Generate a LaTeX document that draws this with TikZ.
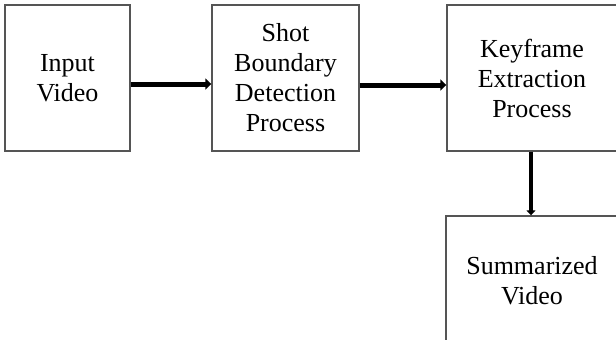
\documentclass[tikz,border=0pt]{standalone}
\usepackage{fontspec}
\setmainfont{Liberation Serif}
\usetikzlibrary{arrows.meta}
\definecolor{boxgray}{RGB}{85,85,85}
\begin{document}
\begin{tikzpicture}[x=1pt,y=-1pt,
  blk/.style={draw=boxgray,line width=1.4pt,inner sep=0pt,align=center,
    font=\fontsize{26}{30}\selectfont},
  bigarrow/.style={line width=5pt,-{Triangle[length=6pt,width=11pt]}},
  downarrow/.style={line width=3.5pt,-{Triangle[length=5pt,width=9pt]}}]
\useasboundingbox (0,0) rectangle (616,340);
\clip (0,0) rectangle (616,340);
\node[blk,minimum width=125pt,minimum height=146pt] (in) at (67.5,78) {Input\\Video};
\node[blk,minimum width=147pt,minimum height=146pt] (sbd) at (285.5,78) {Shot\\Boundary\\Detection\\Process};
\node[blk,minimum width=170pt,minimum height=146pt] (kf) at (532,78) {Keyframe\\Extraction\\Process};
\node[blk,minimum width=172pt,minimum height=130pt] (sum) at (532,281) {Summarized\\Video};
\draw[bigarrow] ([yshift=-6pt]in.east) -- ([yshift=-6pt]sbd.west);
\draw[bigarrow] ([yshift=-7pt]sbd.east) -- ([yshift=-7pt]kf.west);
\draw[downarrow] ([xshift=-1pt]kf.south) -- ([xshift=-1pt]sum.north);
\end{tikzpicture}
\end{document}
